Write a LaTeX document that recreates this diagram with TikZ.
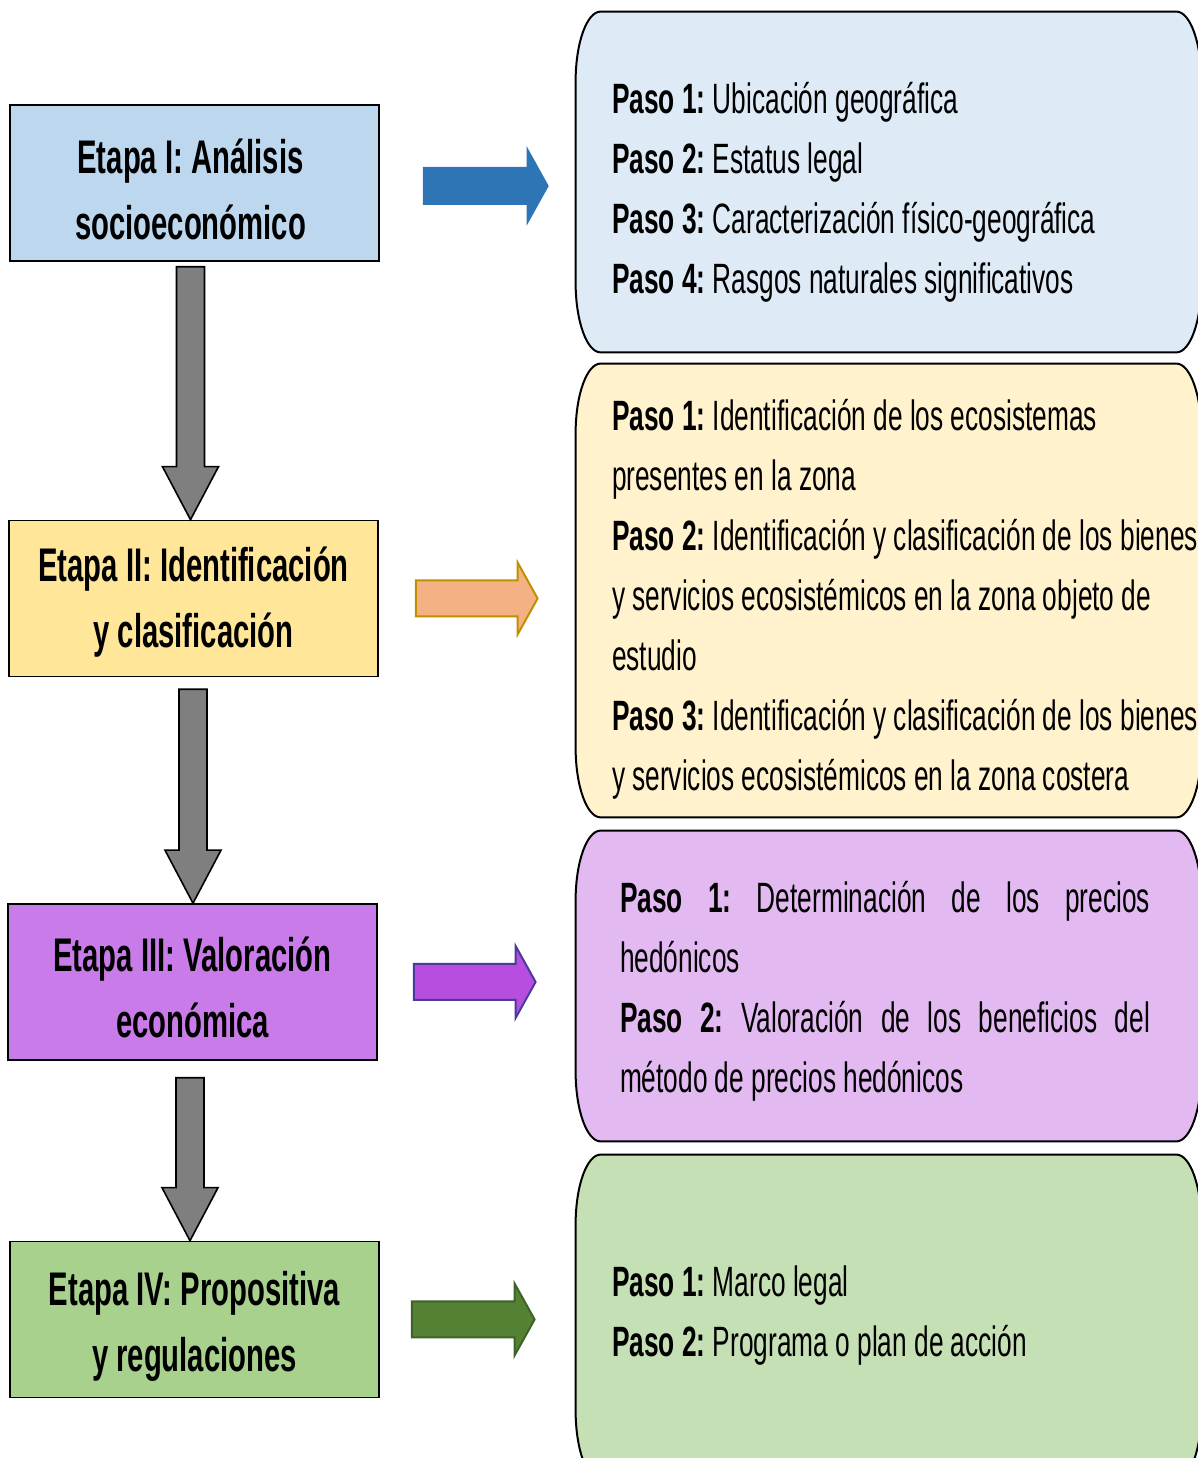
\documentclass[tikz,border=0pt]{standalone}
\usepackage{fontspec}
\setmainfont{Liberation Sans}[FakeStretch=0.62]
\usetikzlibrary{positioning,calc}

\definecolor{etapaazul}{HTML}{BDD7EE}
\definecolor{etapaamarillo}{HTML}{FFE699}
\definecolor{etapamorado}{HTML}{C97CE9}
\definecolor{etapaverde}{HTML}{A9D18E}
\definecolor{pasoazul}{HTML}{DEEBF7}
\definecolor{pasoamarillo}{HTML}{FFF2CC}
\definecolor{pasomorado}{HTML}{E2B9F1}
\definecolor{pasoverde}{HTML}{C5E0B4}
\definecolor{flechagris}{HTML}{7F7F7F}
\definecolor{flechaazul}{HTML}{2E75B6}
\definecolor{flechanaranja}{HTML}{F4B183}
\definecolor{flechanaranjaborde}{HTML}{BF9000}
\definecolor{flechamorado}{HTML}{B84EDF}
\definecolor{flechamoradoborde}{HTML}{4B3A9E}
\definecolor{flechaverde}{HTML}{548235}
\definecolor{flechaverdeborde}{HTML}{3F6227}

% box with soft (elliptic) corners drawn round an empty node
\newcommand\softbox[2]{%
  \draw[line width=1pt, fill=#2] ([xshift=12.5pt]#1.north west) -- ([xshift=-12.5pt]#1.north east)
    arc[start angle=90, end angle=0, x radius=12.5pt, y radius=35pt] -- ([yshift=35pt]#1.south east)
    arc[start angle=0, end angle=-90, x radius=12.5pt, y radius=35pt] -- ([xshift=12.5pt]#1.south west)
    arc[start angle=270, end angle=180, x radius=12.5pt, y radius=35pt] -- ([yshift=-35pt]#1.north west)
    arc[start angle=180, end angle=90, x radius=12.5pt, y radius=35pt] -- cycle;}

\begin{document}
\frenchspacing
\begin{tikzpicture}[x=0.5pt, y=0.5pt,
etapanode/.style={rectangle, draw=black, line width=0.8pt, minimum width=184.5pt, minimum height=78pt},
etapatext/.style={align=center, inner sep=0pt, font=\fontsize{23.6}{33}\selectfont\bfseries},
pasobox/.style={rectangle, minimum width=312.5pt, inner sep=0pt},
pasotext/.style={align=left, inner sep=0pt, font=\fontsize{21.2}{30}\selectfont},
grayarrow/.style={draw=black, line width=0.8pt, fill=flechagris, to path={let \p1=(\tikztostart), \p2=(\tikztotarget) in
  (\x1-7pt,\y1) -- (\x1+7pt,\y1) -- (\x1+7pt,\y2+26.5pt) -- (\x1+14pt,\y2+26.5pt) -- (\x1,\y2) -- (\x1-14pt,\y2+26.5pt) -- (\x1-7pt,\y2+26.5pt) -- cycle}},
sidearrow/.style={line width=1pt, to path={let \p1=(\tikztostart), \p2=(\tikztotarget) in
  (\x1,\y1+9pt) -- (\x2-10pt,\y1+9pt) -- (\x2-10pt,\y1+18pt) -- (\x2,\y1) -- (\x2-10pt,\y1-18pt) -- (\x2-10pt,\y1-9pt) -- (\x1,\y1-9pt) -- cycle}},
]
\useasboundingbox (0,0) rectangle (1198,1458);
\clip (0,0) rectangle (1198,1458);

% Etapas
\node[etapanode, fill=etapaazul] (e1) at (194.5,1275) {};
\node[etapanode, fill=etapaamarillo] (e2) at (193.5,859.5) {};
\node[etapanode, fill=etapamorado] (e3) at (192.5,476) {};
\node[etapanode, fill=etapaverde] (e4) at (194.5,138.5) {};
\node[etapatext, yshift=-3pt, xshift=-2pt] (l1) at (e1) {Etapa I: Análisis\\socioeconómico};
\node[etapatext, yshift=-1.75pt] (l2) at (e2) {Etapa II: Identificación\\y clasificación};
\node[etapatext, yshift=-2.75pt] (l3) at (e3) {Etapa III: Valoración\\económica};
\node[etapatext, yshift=-3.25pt] (l4) at (e4) {Etapa IV: Propositiva\\y regulaciones};

% Pasos
\node[pasobox, minimum height=170pt] (p1) at (888.5,1276) {};
\node[pasobox, minimum height=226.5pt] (p2) at (888.5,867.5) {};
\node[pasobox, minimum height=155pt] (p3) at (888.5,472) {};
\node[pasobox, minimum height=162.5pt] (p4) at (888.5,140.5) {};
\softbox{p1}{pasoazul}
\softbox{p2}{pasoamarillo}
\softbox{p3}{pasomorado}
\softbox{p4}{pasoverde}

\node[pasotext, right=18pt of p1.west, yshift=-5pt] (t1) {\textbf{Paso 1:} Ubicación geográfica\\
\textbf{Paso 2:} Estatus legal\\
\textbf{Paso 3:} Caracterización físico-geográfica\\
\textbf{Paso 4:} Rasgos naturales significativos};
\node[pasotext, right=18pt of p2.west, yshift=-4.25pt] (t2) {\textbf{Paso 1:} Identificación de los ecosistemas\\
presentes en la zona\\
\textbf{Paso 2:} Identificación y clasificación de los bienes\\
y servicios ecosistémicos en la zona objeto de\\
estudio\\
\textbf{Paso 3:} Identificación y clasificación de los bienes\\
y servicios ecosistémicos en la zona costera};
\node[pasotext, right=22pt of p3.west, yshift=-2.75pt] (t3) {\makebox[265pt][s]{\textbf{Paso 1:} Determinación de los precios}\\
hedónicos\\
\makebox[265pt][s]{\textbf{Paso 2:} Valoración de los beneficios del}\\
método de precios hedónicos};
\node[pasotext, right=18pt of p4.west, yshift=0.75pt] (t4) {\textbf{Paso 1:} Marco legal\\
\textbf{Paso 2:} Programa o plan de acción};

% Arrows
\draw[grayarrow] ([xshift=-2pt,yshift=-2.5pt]e1.south) to (e2.north);
\draw[grayarrow] ([xshift=-0.25pt,yshift=-6pt]e2.south) to (e3.north);
\draw[grayarrow] ([xshift=-1.25pt,yshift=-8.5pt]e3.south) to (e4.north);

\draw[sidearrow, draw=flechaazul, fill=flechaazul] ([xshift=22pt,yshift=-1.5pt]e1.east) to ([xshift=-14pt]p1.west);
\draw[sidearrow, draw=flechanaranjaborde, fill=flechanaranja] ([xshift=18.5pt]e2.east) to ([xshift=-19pt]p2.west);
\draw[sidearrow, draw=flechamoradoborde, fill=flechamorado] ([xshift=18pt]e3.east) to ([xshift=-20pt]p3.west);
\draw[sidearrow, draw=flechaverdeborde, fill=flechaverde] ([xshift=16pt]e4.east) to ([xshift=-20.5pt]p4.west);

\end{tikzpicture}
\end{document}
